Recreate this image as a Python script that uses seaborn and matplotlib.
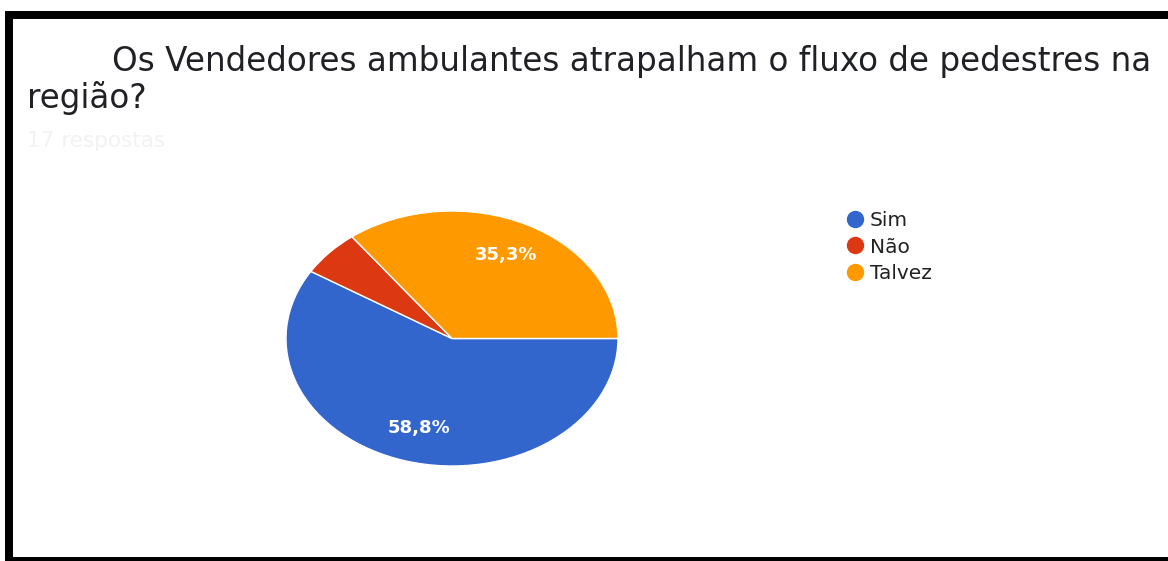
import matplotlib
matplotlib.use("Agg")
import matplotlib.pyplot as plt
import seaborn as sns
from matplotlib.lines import Line2D

# ---- data ----
categories = ["Sim", "Não", "Talvez"]
counts = [10, 1, 6]
colors = ["#3366cc", "#dc3912", "#ff9900"]
title_line1 = "Os Vendedores ambulantes atrapalham o fluxo de pedestres na"
title_line2 = "região?"
subtitle = "17 respostas"

sns.set_theme(style="white")
plt.rcParams["font.family"] = ["DejaVu Sans"]

W, H = 1168, 561
fig = plt.figure(figsize=(W / 100, H / 100), dpi=100)
fig.patch.set_facecolor("white")

# pie axes (elliptical, stretched like the reference)
ax = fig.add_axes([286 / W, 1 - 466 / H, 332 / W, 255 / H])

def fmt(p):
    return ("%.1f%%" % p).replace(".", ",") if p > 10 else ""

wedges, texts, autotexts = ax.pie(
    counts, colors=colors, startangle=0, counterclock=False,
    autopct=fmt, pctdistance=0.73,
    wedgeprops=dict(edgecolor="white", linewidth=1),
    textprops=dict(color="white", fontsize=13, fontweight="semibold"),
)
ax.set_aspect("auto")
ax.set_xlim(-1, 1)
ax.set_ylim(-1, 1)
ax.axis("off")

# title
fig.text(112 / W, 1 - 62 / H, title_line1, fontsize=23.5, color="#202124",
         va="center", ha="left")
fig.text(27 / W, 1 - 98 / H, title_line2, fontsize=23.5, color="#202124",
         va="center", ha="left")
fig.text(27 / W, 1 - 141 / H, subtitle, fontsize=15.5, color="#f2f2f2",
         va="center", ha="left")

# legend
handles = [Line2D([0], [0], marker="o", linestyle="none", markersize=11.5,
                  markerfacecolor=c, markeredgecolor=c) for c in colors]
leg = fig.legend(handles, categories, loc="upper left",
                 bbox_to_anchor=(836 / W, 1 - 203 / H), frameon=False,
                 fontsize=14.5, handletextpad=0.18, labelspacing=0.37,
                 borderaxespad=0, handlelength=1.1)
for t in leg.get_texts():
    t.set_color("#222222")

# black frame (left, top, bottom)
def px_line(x0, y0, x1, y1, w):
    fig.add_artist(Line2D([x0 / W, x1 / W], [1 - y0 / H, 1 - y1 / H],
                          transform=fig.transFigure, color="black",
                          linewidth=w * 72 / 100, solid_capstyle="butt"))

px_line(9, 11, 9, 561, 8)
px_line(5, 15, W, 15, 8)
px_line(5, 558.5, W, 558.5, 5)

fig.savefig("out.png", dpi=100, facecolor="white")
